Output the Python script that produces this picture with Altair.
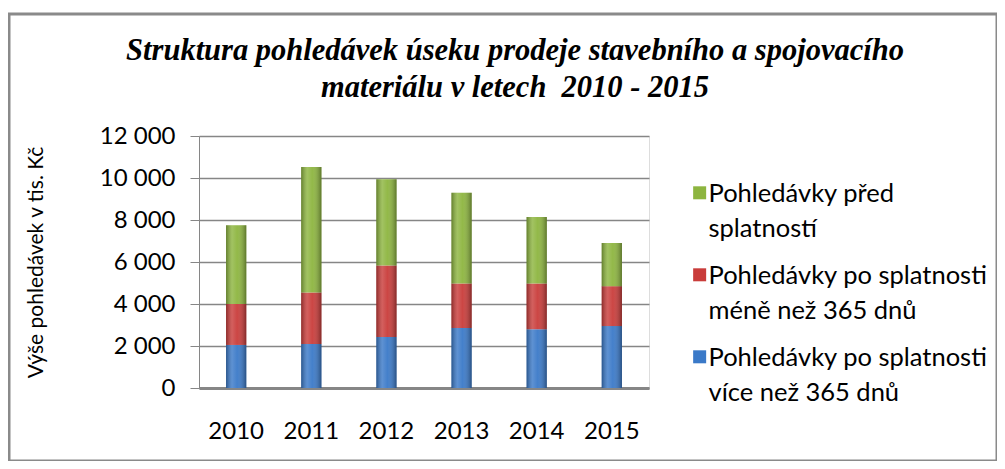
import altair as alt
import pandas as pd

years = ["2010", "2011", "2012", "2013", "2014", "2015"]
over365 = [2050, 2090, 2430, 2860, 2800, 2950]
under365 = [1950, 2460, 3400, 2120, 2180, 1900]
before_due = [3750, 5970, 4110, 4320, 3160, 2050]

s_green = "Pohledávky před|splatností"
s_red = "Pohledávky po splatnosti|méně než 365 dnů"
s_blue = "Pohledávky po splatnosti|více než 365 dnů"
series = [s_blue, s_red, s_green]
colors = {s_green: "#8db53f", s_red: "#c93c3a", s_blue: "#3a79c8"}

rows = []
for i, y in enumerate(years):
    for k, (s, vals) in enumerate(zip(series, [over365, under365, before_due])):
        rows.append({"year": y, "series": s, "value": vals[i], "order": k})
df = pd.DataFrame(rows)

FONT = "Lato"
GRID = "#868686"

xscale = alt.Scale(paddingInner=0.73, paddingOuter=0.36)
yscale = alt.Scale(domain=[0, 12000])

base = alt.Chart(df).transform_stack(
    stack="value", as_=["y0", "y1"], groupby=["year"], sort=[alt.SortField("order")]
)

bars = base.mark_bar().encode(
    x=alt.X("year:N", scale=xscale, title=None,
            axis=alt.Axis(labelFontSize=24, labelFont=FONT, labelColor="#000",
                          labelAngle=0, tickSize=0, labelPadding=31,
                          domainColor=GRID, domainWidth=3, grid=False)),
    y=alt.Y("y0:Q", scale=yscale, title="Výše pohledávek v tis. Kč",
            axis=alt.Axis(values=[0, 2000, 4000, 6000, 8000, 10000, 12000],
                          labelExpr="replace(format(datum.value, ','), ',', ' ')",
                          labelFontSize=24, labelFont=FONT, labelColor="#000",
                          labelPadding=15, tickSize=9, tickColor=GRID,
                          domainColor=GRID, gridColor=GRID, gridWidth=1.3,
                          titleFont=FONT, titleFontSize=21, titleFontWeight="normal",
                          titleColor="#000", titlePadding=53)),
    y2="y1:Q",
    color=alt.Color("series:N",
                    scale=alt.Scale(domain=[s_green, s_red, s_blue],
                                    range=[colors[s_green], colors[s_red], colors[s_blue]]),
                    legend=alt.Legend(title=None, orient="none", legendX=484, legendY=33,
                                      labelExpr="split(datum.label, '|')",
                                      labelFont=FONT, labelFontSize=25.5, labelColor="#000",
                                      labelLimit=400, symbolType="M-0.4,0.7H1.6V2.7H-0.4Z",
                                      symbolSize=169, symbolStrokeWidth=0,
                                      rowPadding=8, labelOffset=0,
                                      labelBaseline="top")),
)

gloss = base.mark_bar(
    color=alt.LinearGradient(
        gradient="linear", x1=0, x2=1, y1=0, y2=0,
        stops=[
            alt.GradientStop(offset=0, color="rgba(0,0,0,0.30)"),
            alt.GradientStop(offset=0.3, color="rgba(255,255,255,0.18)"),
            alt.GradientStop(offset=0.55, color="rgba(255,255,255,0.05)"),
            alt.GradientStop(offset=1, color="rgba(0,0,0,0.35)"),
        ],
    )
).encode(
    x=alt.X("year:N", scale=xscale),
    y=alt.Y("y0:Q", scale=yscale),
    y2="y1:Q",
)

frame = alt.Chart(pd.DataFrame({"a": [0]})).mark_rect(
    filled=False, stroke="#8a8a8a", strokeWidth=3, clip=False
).encode(
    x=alt.value(-190), x2=alt.value(798), y=alt.value(-122), y2=alt.value(325)
)

chart = alt.layer(frame, bars, gloss).properties(
    width=450, height=252,
    autosize=alt.AutoSizeParams(type="none"),
    padding={"left": 191, "top": 128, "right": 348, "bottom": 73},
    title=alt.TitleParams(
        text=["Struktura pohledávek úseku prodeje stavebního a spojovacího",
              "materiálu v letech\u00a0 2010 - 2015"],
        font="Liberation Serif", fontSize=30.5, fontStyle="italic", fontWeight="bold",
        color="#000", anchor="middle", frame="group", dx=91, offset=35, dy=126,
        lineHeight=37,
    ),
).configure_view(stroke=None).configure(
    background="white",
    style={"guide-label": {"lineHeight": 35}},
)

chart.save("out.html", embed_options={"renderer": "svg", "actions": False})
